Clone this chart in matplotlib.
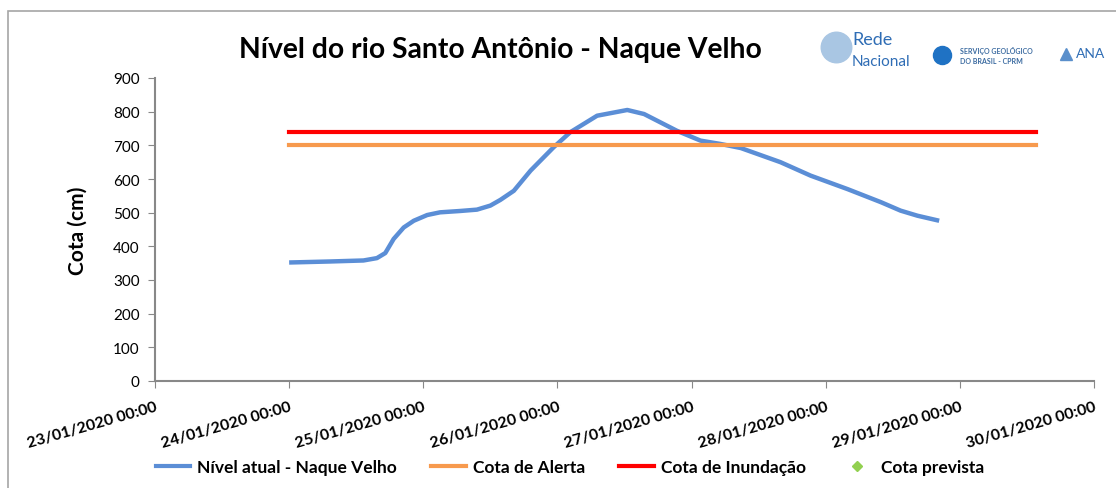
import numpy as np
import pandas as pd
import matplotlib
matplotlib.use('Agg')
import matplotlib.pyplot as plt
from matplotlib.lines import Line2D
from matplotlib.patches import Rectangle

plt.rcParams['font.family'] = ['Lato', 'DejaVu Sans']

# leituras (horas desde 24/01/2020 00:00, cota em cm)
horas = [0, 7.3, 13.3, 15.7, 17.2, 18.7, 20.5, 22.3, 24.7, 27, 30.6, 33.6, 36, 37.8,
         40.2, 43.2, 47.3, 50.3, 55.1, 60.5, 63.5, 69.4, 73.6, 77.2, 80.8, 87.9,
         93.3, 99.9, 105.9, 109.4, 112.4, 116.3]
nivel = [352, 355, 358, 365, 380, 422, 456, 476, 493, 501, 505, 509, 521, 538,
         565, 625, 694, 739, 788, 805, 793, 743, 714, 704, 692, 650,
         610, 570, 531, 506, 491, 476]
cota_alerta = 700
cota_inundacao = 740
ref_inicio = '2020-01-24 00:00'
ref_fim = '2020-01-29 13:40'
dias = pd.date_range('2020-01-23', '2020-01-30', freq='D')

t = pd.Timestamp(ref_inicio) + pd.to_timedelta(horas, unit='h')
lim = [pd.Timestamp(ref_inicio), pd.Timestamp(ref_fim)]

fig = plt.figure(figsize=(11.16, 4.89), dpi=100)
fig.patches.append(Rectangle((8 / 1116, -0.1), 1.2, 1 - 12 / 489 + 0.1,
                             transform=fig.transFigure, fill=False,
                             edgecolor='#a6a6a6', lw=1.2))
ax = fig.add_axes([155 / 1116, 1 - 382 / 489, (1094 - 155) / 1116, (382 - 79) / 489])

ax.plot(t, nivel, color='#5B8ED6', lw=3.2, solid_joinstyle='round', solid_capstyle='butt')
ax.plot(lim, [cota_alerta] * 2, color='#F79A4E', lw=3)
ax.plot(lim, [cota_inundacao] * 2, color='#FF0000', lw=3)

ax.set_xlim(dias[0], dias[-1])
ax.set_ylim(0, 900)
ax.set_yticks(range(0, 901, 100))
ax.set_xticks(dias)
ax.set_xticklabels([d.strftime('%d/%m/%Y %H:%M') for d in dias], rotation=16,
                   ha='right', rotation_mode='anchor', fontweight='bold', fontsize=11.5)
for s in ['top', 'right']:
    ax.spines[s].set_visible(False)
for s in ['left', 'bottom']:
    ax.spines[s].set_color('#888888')
    ax.spines[s].set_linewidth(1.5)
ax.tick_params(axis='y', direction='out', length=5, color='#888888', labelsize=11, pad=6)
ax.tick_params(axis='x', direction='out', length=5, color='#888888', pad=8)
ax.set_ylabel('Cota (cm)', fontsize=15, fontweight='bold', labelpad=18)

fig.text(500 / 1116, 1 - 50 / 489, 'Nível do rio Santo Antônio - Naque Velho',
         ha='center', va='center', fontsize=20.3, fontweight='bold')

# logos (aproximação em texto)
fig.add_artist(Line2D([836 / 1116], [1 - 48 / 489], marker='o', markersize=22,
                      color='#a9c6e3', transform=fig.transFigure))
fig.text(852 / 1116, 1 - 40 / 489, 'Rede', color='#2f6db5', fontsize=13, ha='left', va='center')
fig.text(852 / 1116, 1 - 62 / 489, 'Nacional', color='#2f6db5', fontsize=11, ha='left', va='center')
fig.add_artist(Line2D([942 / 1116], [1 - 56 / 489], marker='o', markersize=13,
                      color='#1f72c4', transform=fig.transFigure))
fig.text(960 / 1116, 1 - 56 / 489, 'SERVIÇO GEOLÓGICO\nDO BRASIL - CPRM', color='#3a6aa0',
         fontsize=5, fontweight='bold', ha='left', va='center', linespacing=1.4)
fig.text(1076 / 1116, 1 - 54 / 489, 'ANA', color='#2f6db5', fontsize=10, ha='left', va='center')
fig.add_artist(Line2D([1066 / 1116], [1 - 55 / 489], marker='^', markersize=9,
                      color='#5a8fcb', transform=fig.transFigure))

handles = [Line2D([], [], color='#5B8ED6', lw=3),
           Line2D([], [], color='#F79A4E', lw=3),
           Line2D([], [], color='#FF0000', lw=3),
           Line2D([], [], color='#92D050', marker='D', ls='none', markersize=5)]
labels = ['Nível atual - Naque Velho', 'Cota de Alerta', 'Cota de Inundação', 'Cota prevista']
leg = fig.legend(handles, labels, loc='center', bbox_to_anchor=(570 / 1116, 1 - 468 / 489),
                 ncol=4, frameon=False, prop={'weight': 'bold', 'size': 12.5},
                 columnspacing=1.96, handlelength=2.0, handletextpad=0.4)

fig.savefig('out.png', dpi=100)
